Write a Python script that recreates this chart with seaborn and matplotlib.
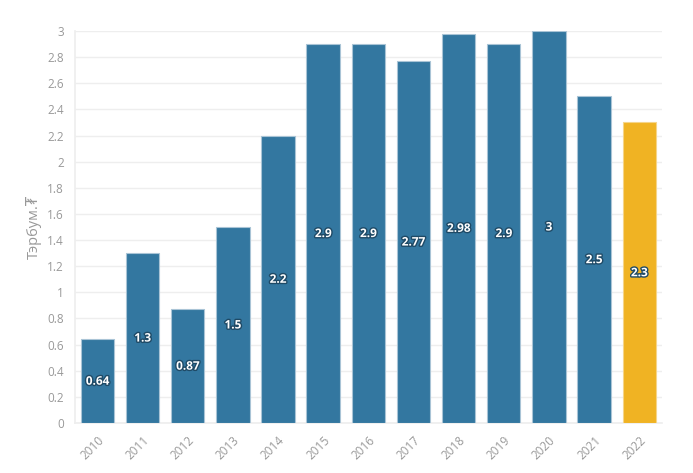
import matplotlib
matplotlib.use("Agg")
import matplotlib.pyplot as plt
import matplotlib.patheffects as pe
import seaborn as sns
import pandas as pd

years = ["2010", "2011", "2012", "2013", "2014", "2015", "2016", "2017", "2018", "2019", "2020", "2021", "2022"]
values = [0.64, 1.3, 0.87, 1.5, 2.2, 2.9, 2.9, 2.77, 2.98, 2.9, 3, 2.5, 2.3]
labels = ["0.64", "1.3", "0.87", "1.5", "2.2", "2.9", "2.9", "2.77", "2.98", "2.9", "3", "2.5", "2.3"]
y_ticks = [0, 0.2, 0.4, 0.6, 0.8, 1, 1.2, 1.4, 1.6, 1.8, 2, 2.2, 2.4, 2.6, 2.8, 3]
y_tick_labels = ["0", "0.2", "0.4", "0.6", "0.8", "1", "1.2", "1.4", "1.6", "1.8", "2", "2.2", "2.4", "2.6", "2.8", "3"]

sns.set_theme(style="white")
plt.rcParams['font.family'] = ['Open Sans', 'DejaVu Sans']

df = pd.DataFrame({"year": years, "value": values})
palette = ["#3377a0"] * (len(years) - 1) + ["#f0b323"]

fig = plt.figure(figsize=(6.93, 4.73), dpi=100)
ax = fig.add_axes([0.108, 0.1057, 0.847, 0.8287])
sns.barplot(data=df, x="year", y="value", hue="year", palette=palette, legend=False,
            width=0.74, edgecolor="#a9c4d6", linewidth=0.8, saturation=1, ax=ax, zorder=3)
ax.patches[-1].set_edgecolor("#f5d58a")

for i, (v, lab) in enumerate(zip(values, labels)):
    ax.text(i, v / 2, lab, ha="center", va="center", color="white", fontsize=8.5, fontweight="bold",
            path_effects=[pe.withStroke(linewidth=2, foreground="#1f4a66")], zorder=5)

ax.set_ylim(0, 3)
ax.set_xlim(-0.5, len(years) - 0.5)
ax.set_yticks(y_ticks)
ax.set_yticklabels(y_tick_labels)
ax.grid(axis="y", color="#eeeeee", linewidth=1, zorder=0)
for s in ["top", "right"]:
    ax.spines[s].set_visible(False)
ax.spines["left"].set_color("#eeeeee")
ax.spines["bottom"].set_color("#eeeeee")
ax.tick_params(axis="y", colors="#999999", labelsize=8.5, length=0, pad=8)
ax.tick_params(axis="x", colors="#999999", labelsize=8.5, length=4, width=0.8, pad=4)
ax.tick_params(axis="x", color="#dddddd")
plt.setp(ax.get_xticklabels(), rotation=45, ha="right", rotation_mode="anchor")
ax.set_xlabel("")
ax.set_ylabel("Тэрбум.₮", color="#999999", fontsize=10.5)

fig.savefig("out.png", dpi=100)
